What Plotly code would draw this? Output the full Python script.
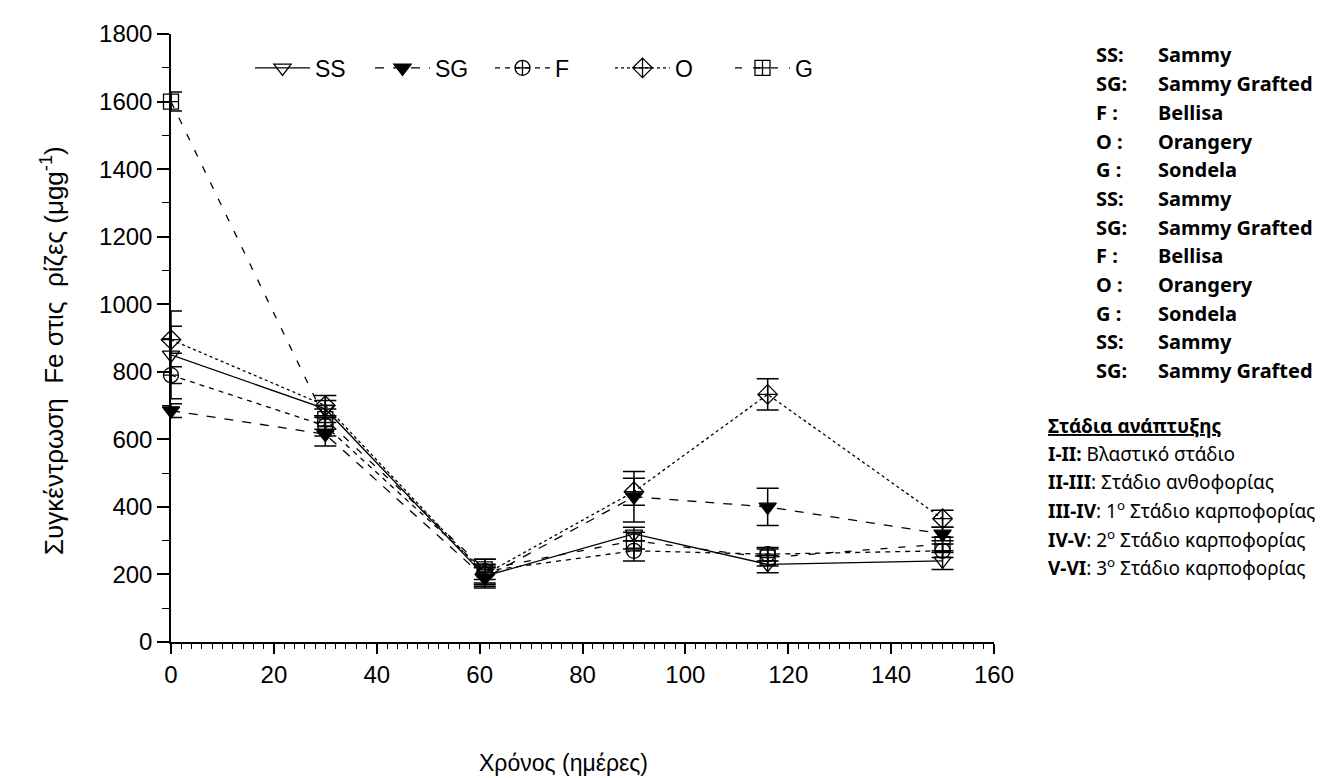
import plotly.graph_objects as go

# ---- data ----
days = [0, 30, 61, 90, 116, 150]

ss_vals = [850, 690, 195, 320, 230, 240]
ss_err = [130, 25, 30, 20, 25, 25]
sg_vals = [685, 615, 190, 430, 400, 320]
sg_err = [20, 35, 30, 75, 55, 20]
f_vals = [790, 640, 210, 270, 260, 270]
f_err = [25, 30, 35, 30, 20, 20]
o_vals = [895, 700, 200, 445, 733, 365]
o_err = [40, 30, 30, 40, 46, 25]
g_vals = [1600, 660, 215, 300, 250, 290]
g_err = [28, 30, 30, 25, 25, 20]

series_names = ["SS", "SG", "F", "O", "G"]

key_codes = ["SS:", "SG:", "F :", "O :", "G :", "SS:", "SG:", "F :", "O :", "G :", "SS:", "SG:"]
key_names = ["Sammy", "Sammy Grafted", "Bellisa", "Orangery", "Sondela",
             "Sammy", "Sammy Grafted", "Bellisa", "Orangery", "Sondela",
             "Sammy", "Sammy Grafted"]

stage_title = "Στάδια ανάπτυξης"
stage_codes = ["I-II:", "II-III", "III-IV", "IV-V", "V-VI"]
stage_texts = [" Βλαστικό στάδιο", ": Στάδιο ανθοφορίας",
               ": 1<sup>ο</sup> Στάδιο καρποφορίας",
               ": 2<sup>ο</sup> Στάδιο καρποφορίας",
               ": 3<sup>ο</sup> Στάδιο καρποφορίας"]

x_title = "Χρόνος (ημέρες)"
y_title = "Συγκέντρωση\u00a0 Fe στις\u00a0 ρίζες (μgg<sup>-1</sup>)"

# ---- layout geometry ----
W, H = 1333, 778
L, R, T, B = 163, 986, 24, 634


def px(xp):
    return (xp - L) / (R - L)


def py(yp):
    return (B - yp) / (B - T)


styles = {
    "SS": dict(dash="solid", symbol="triangle-down-open"),
    "SG": dict(dash="dash", symbol="triangle-down"),
    "F": dict(dash="5px,5px", symbol="circle-cross-open"),
    "O": dict(dash="dot", symbol="diamond-cross-open"),
    "G": dict(dash="7px,11px", symbol="square-cross-open"),
}
vals = {"SS": (ss_vals, ss_err), "SG": (sg_vals, sg_err), "F": (f_vals, f_err),
        "O": (o_vals, o_err), "G": (g_vals, g_err)}

fig = go.Figure()
for name in series_names:
    v, e = vals[name]
    st = styles[name]
    fig.add_trace(go.Scatter(
        x=days, y=v, name=name, mode="lines+markers",
        line=dict(color="black", width=1.3, dash=st["dash"]),
        marker=dict(symbol=st["symbol"], size=15, color="black",
                    line=dict(color="black", width=1.3)),
        error_y=dict(type="data", array=e, visible=True, color="black",
                     thickness=1.5, width=11),
        cliponaxis=False,
    ))

tickfont = dict(family="Liberation Sans, Arial", size=24, color="black")

fig.update_layout(
    width=W, height=H,
    margin=dict(l=L, r=W - R, t=T, b=H - B),
    paper_bgcolor="white", plot_bgcolor="white",
    showlegend=True,
    legend=dict(orientation="h", x=px(242), y=py(58), xanchor="left", yanchor="middle",
                font=dict(family="Liberation Sans, Arial", size=23, color="black"),
                bgcolor="rgba(0,0,0,0)", itemwidth=55, entrywidth=50,
                entrywidthmode="pixels", tracegroupgap=0),
    xaxis=dict(range=[0, 160], dtick=20, tick0=0, showgrid=False, zeroline=False,
               showline=True, linecolor="black", linewidth=1.5,
               ticks="outside", ticklen=10, tickwidth=1.5, tickcolor="black",
               tickfont=tickfont,
               minor=dict(dtick=2, ticks="outside", ticklen=5, tickwidth=1.2, tickcolor="black")),
    yaxis=dict(range=[0, 1800], dtick=200, tick0=0, showgrid=False, zeroline=False,
               showline=True, linecolor="black", linewidth=1.5,
               ticks="outside", ticklen=12, tickwidth=1.5, tickcolor="black",
               tickfont=tickfont,
               minor=dict(dtick=100, ticks="outside", ticklen=7, tickwidth=1.2, tickcolor="black")),
)

ann = []
ann.append(dict(text=x_title, x=px(555), y=py(755), xref="paper", yref="paper",
                showarrow=False, xanchor="center", yanchor="middle",
                font=dict(family="Liberation Sans, Arial", size=23, color="black")))
ann.append(dict(text=y_title, x=px(45), y=py(342), xref="paper", yref="paper",
                showarrow=False, xanchor="center", yanchor="middle", textangle=-90,
                font=dict(family="Liberation Sans, Arial", size=26, color="black")))

rfont = dict(family="Noto Sans", size=20, color="black")
sfont = dict(family="Noto Sans", size=19, color="black")
row0, dy = 45, 28.8
for i, (c, n) in enumerate(zip(key_codes, key_names)):
    yy = row0 + i * dy
    ann.append(dict(text="<b>" + c + "</b>", x=px(1086), y=py(yy), xref="paper", yref="paper",
                    showarrow=False, xanchor="left", yanchor="middle", font=rfont))
    ann.append(dict(text="<b>" + n + "</b>", x=px(1148), y=py(yy), xref="paper", yref="paper",
                    showarrow=False, xanchor="left", yanchor="middle", font=rfont))

srow0, sdy = 417, 28.3
ann.append(dict(text="<b><u>" + stage_title + "</u></b>", x=px(1038), y=py(srow0),
                xref="paper", yref="paper", showarrow=False, xanchor="left",
                yanchor="middle", font=sfont))
for i, (c, t) in enumerate(zip(stage_codes, stage_texts)):
    yy = srow0 + (i + 1) * sdy
    ann.append(dict(text="<b>" + c + "</b>" + t, x=px(1038), y=py(yy), xref="paper",
                    yref="paper", showarrow=False, xanchor="left", yanchor="middle",
                    font=sfont))

fig.update_layout(annotations=ann)
fig.write_html("out.html")
